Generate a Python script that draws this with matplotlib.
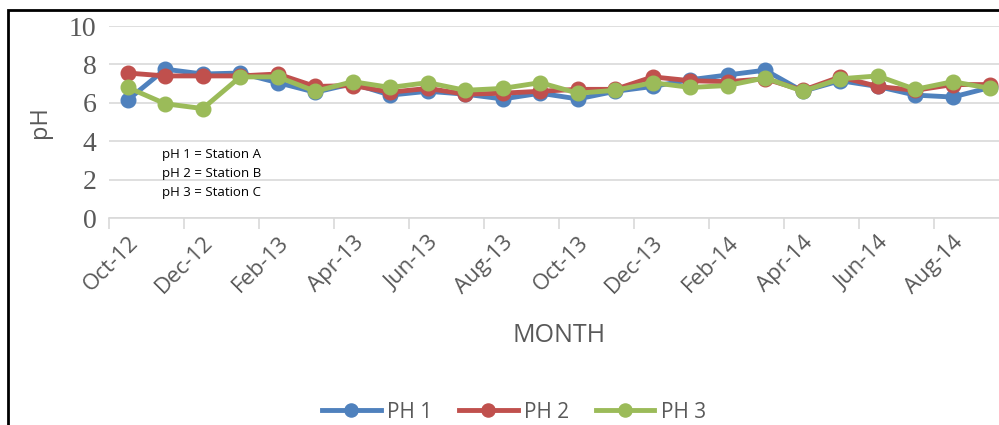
import numpy as np
import matplotlib
matplotlib.use('Agg')
import matplotlib.pyplot as plt
from matplotlib.patches import Rectangle

months = ['Oct-12', 'Nov-12', 'Dec-12', 'Jan-13', 'Feb-13', 'Mar-13', 'Apr-13', 'May-13',
          'Jun-13', 'Jul-13', 'Aug-13', 'Sep-13', 'Oct-13', 'Nov-13', 'Dec-13', 'Jan-14',
          'Feb-14', 'Mar-14', 'Apr-14', 'May-14', 'Jun-14', 'Jul-14', 'Aug-14', 'Sep-14']
ph1 = [6.15, 7.75, 7.5, 7.55, 7.05, 6.55, 7.0, 6.4, 6.6, 6.45, 6.2, 6.5,
       6.2, 6.6, 6.85, 7.2, 7.45, 7.7, 6.6, 7.15, 6.85, 6.4, 6.3, 6.8]
ph2 = [7.55, 7.4, 7.4, 7.4, 7.5, 6.85, 6.9, 6.55, 6.75, 6.45, 6.5, 6.6,
       6.7, 6.7, 7.35, 7.15, 7.1, 7.25, 6.65, 7.35, 6.85, 6.65, 6.95, 6.95]
ph3 = [6.8, 5.95, 5.7, 7.35, 7.35, 6.6, 7.1, 6.8, 7.05, 6.65, 6.75, 7.05,
       6.5, 6.65, 7.05, 6.8, 6.9, 7.3, 6.6, 7.25, 7.4, 6.7, 7.1, 6.75]

grey = '#595959'
sans = ['Open Sans', 'DejaVu Sans']

fig = plt.figure(figsize=(9.99, 4.25), dpi=100)
W, H = 999, 425
ax = fig.add_axes([109 / W, 1 - 218 / H, 900 / W, 192 / H])

x = np.arange(len(months))
for vals, col, name in [(ph1, '#4F81BD', 'PH 1'), (ph2, '#C0504D', 'PH 2'), (ph3, '#9BBB59', 'PH 3')]:
    ax.plot(x, vals, color=col, lw=3.5, marker='o', ms=10.5, label=name, solid_joinstyle='round')

ax.set_xlim(-0.5, 23.5)
ax.set_ylim(0, 10)
ax.set_yticks(range(0, 11, 2))
ax.grid(axis='y', color='#d9d9d9', lw=1.2)
ax.set_axisbelow(True)
for s in ['top', 'right', 'left']:
    ax.spines[s].set_visible(False)
ax.spines['bottom'].set_color('#d9d9d9')
ax.spines['bottom'].set_linewidth(1.2)

ax.set_xticks(x[::2])
ax.set_xticklabels(months[::2], rotation=45, ha='right', va='top', rotation_mode='anchor',
                   fontsize=16, color=grey, family=sans)
ax.set_xticks(np.arange(-0.5, 23.5, 2), minor=True)
ax.tick_params(axis='x', which='major', length=0, pad=10)
ax.tick_params(axis='x', which='minor', length=8, color='#d9d9d9', width=1.2)
ax.tick_params(axis='y', length=0, pad=9, labelsize=20, labelcolor=grey)
for t in ax.get_yticklabels():
    t.set_family('Liberation Serif')

ax.set_ylabel('pH', fontsize=17, color=grey, family=sans, labelpad=12)
ax.set_xlabel('MONTH', fontsize=18, color=grey, family=sans, labelpad=18)

ax.text(0.9, 2.3, 'pH 1 = Station A\npH 2 = Station B\npH 3 = Station C', fontsize=9.5,
        family=sans, color='black', va='center', linespacing=1.6)

fig.legend(loc='center', bbox_to_anchor=(514 / W, 1 - 412 / H), ncol=3, frameon=False,
           prop={'family': sans, 'size': 15}, labelcolor=grey, handlelength=2.8,
           handletextpad=0.3, columnspacing=1.3, markerscale=0.9)

fig.add_artist(Rectangle((8 / W, -0.1), 1.2, 1 - 10 / H + 0.1, transform=fig.transFigure,
                         fill=False, edgecolor='black', lw=2))

fig.savefig('out.png', dpi=100)
